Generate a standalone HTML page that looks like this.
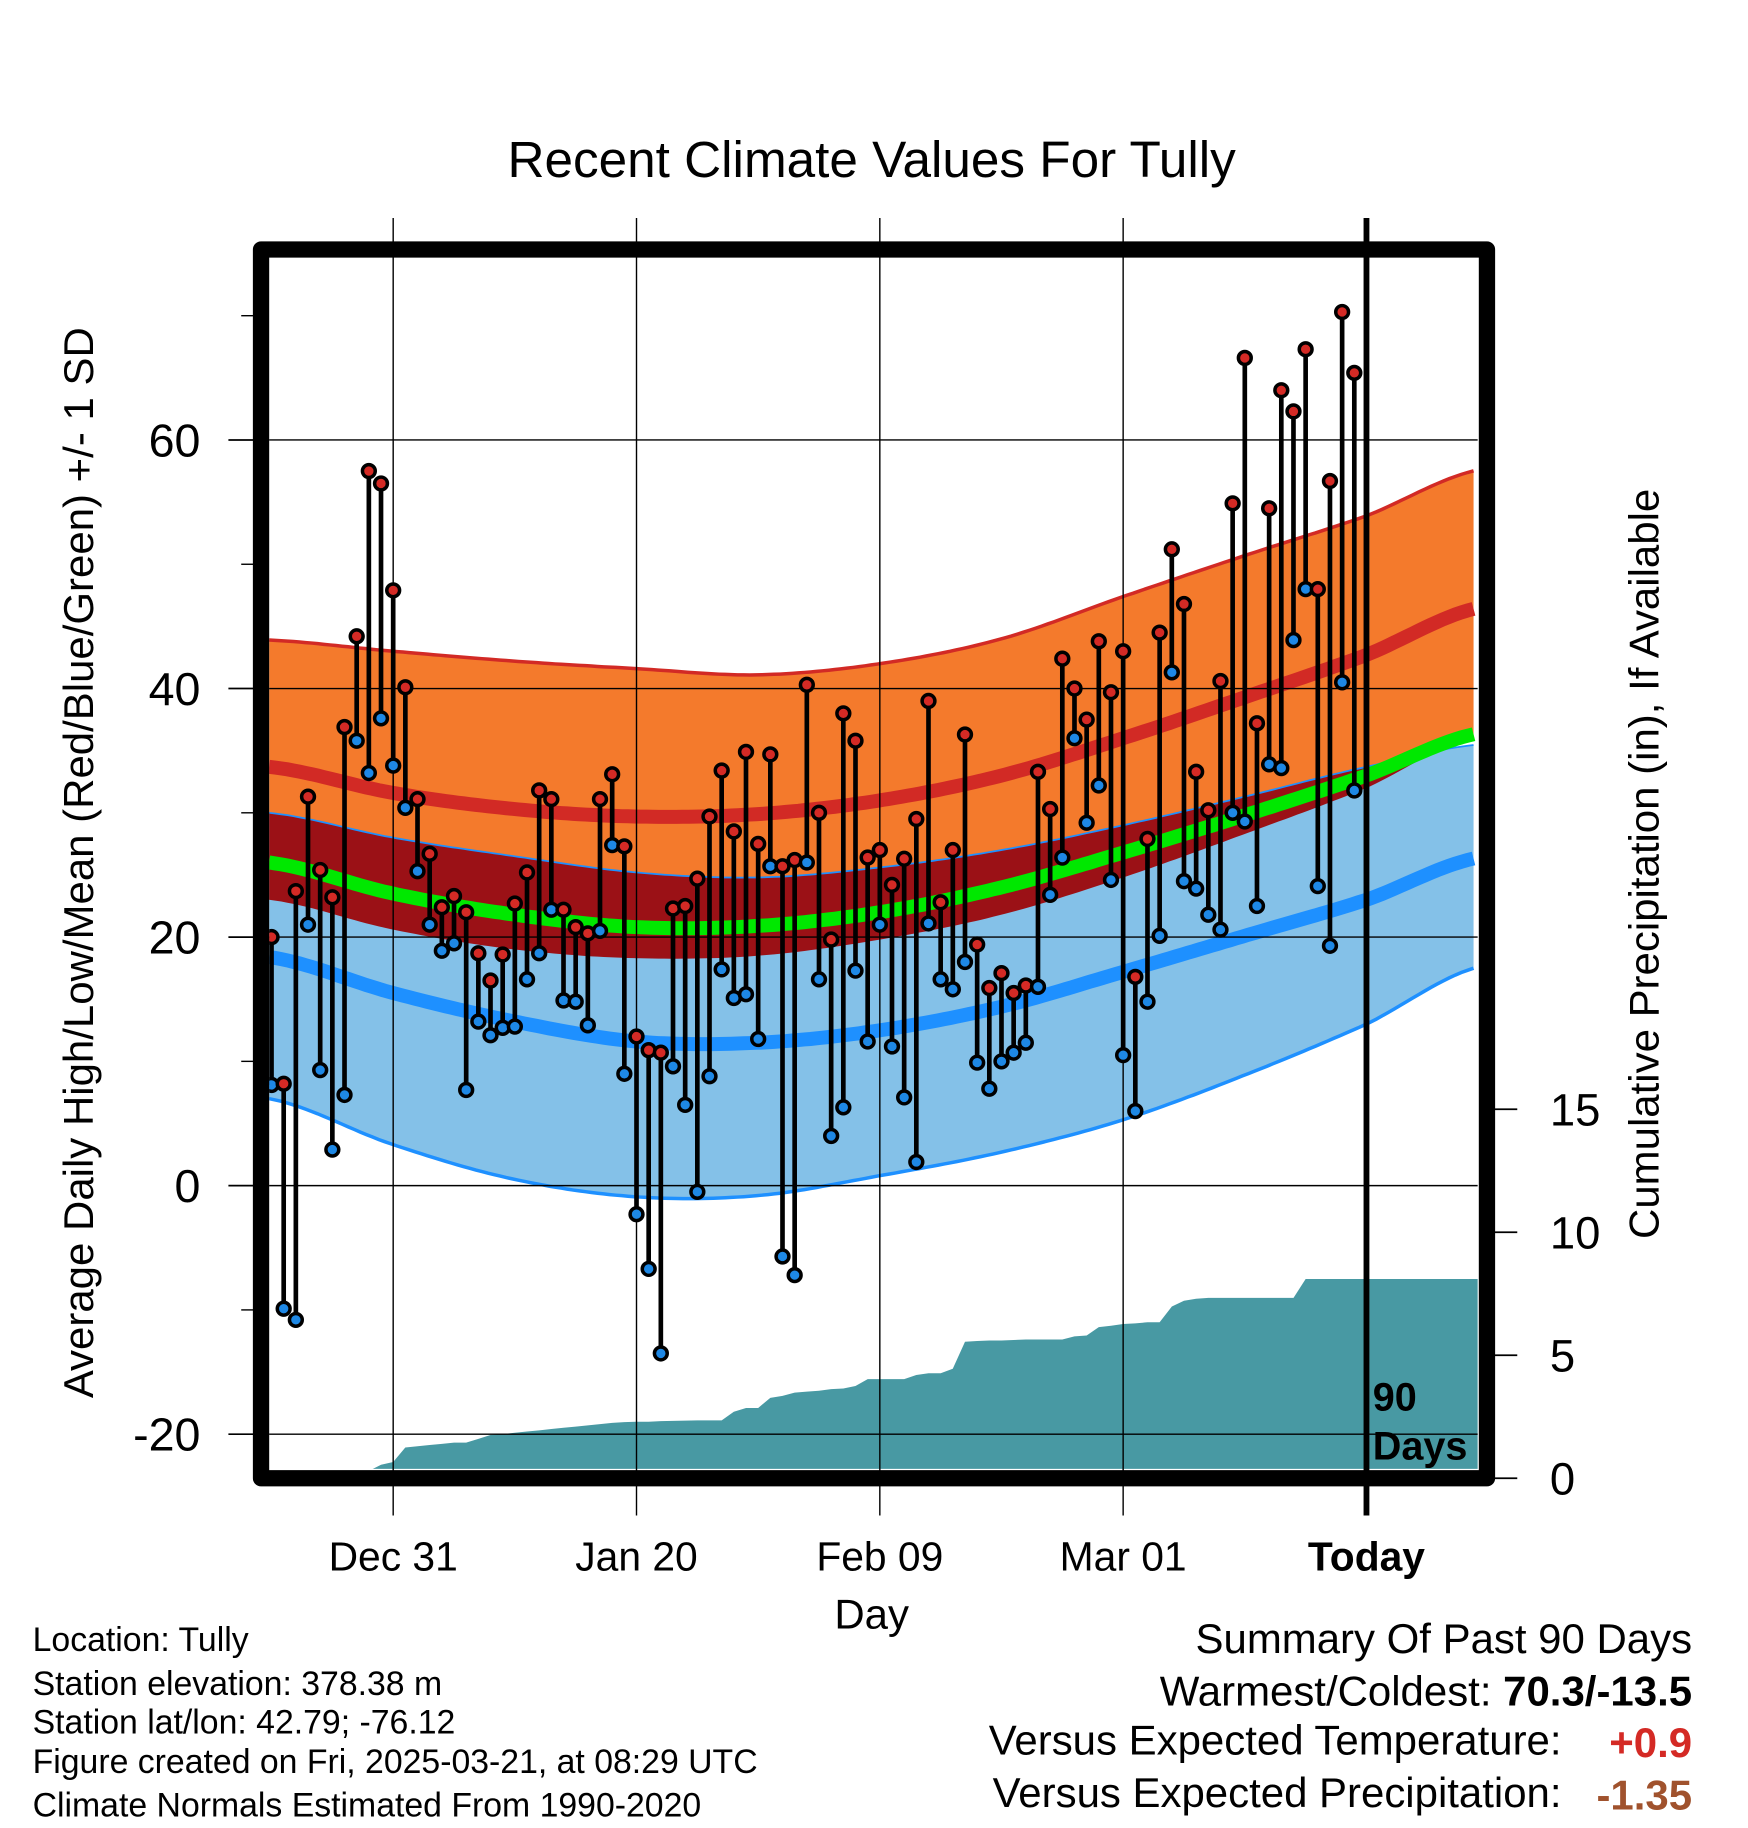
<!DOCTYPE html>
<html><head><meta charset="utf-8"><title>Recent Climate Values For Tully</title>
<style>html,body{margin:0;padding:0;background:#fff}svg{display:block}text{font-family:"Liberation Sans",sans-serif}</style>
</head><body>
<svg id="chart" xmlns="http://www.w3.org/2000/svg" width="1748" height="1828" viewBox="0 0 1500 1568" preserveAspectRatio="none">
<defs><clipPath id="plotclip"><rect x="231" y="221" width="1037" height="1039"/></clipPath></defs>
<rect x="0" y="0" width="1500" height="1568" fill="#fff"/>
<text x="748" y="152" font-size="44" text-anchor="middle">Recent Climate Values For Tully</text>
<g id="bands" clip-path="url(#plotclip)"></g>
<g id="grid"></g>
<g id="marks" clip-path="url(#plotclip)"></g>
<rect x="224" y="214" width="1052" height="1054" fill="none" stroke="#000" stroke-width="14" stroke-linejoin="round"/>
<g id="axes"></g>
<text transform="translate(80,740) rotate(-90)" font-size="36" text-anchor="middle">Average Daily High/Low/Mean (Red/Blue/Green) +/- 1 SD</text>
<text transform="translate(1423,741) rotate(-90)" font-size="36" text-anchor="middle">Cumulative Precipitation (in), If Available</text>
<text x="748" y="1397" font-size="36" text-anchor="middle">Day</text>
<text x="1178" y="1210" font-size="34" font-weight="bold">90</text>
<text x="1178" y="1252" font-size="34" font-weight="bold">Days</text>
<g font-size="29">
<text x="28" y="1416">Location: Tully</text>
<text x="28" y="1454">Station elevation: 378.38 m</text>
<text x="28" y="1487">Station lat/lon: 42.79; -76.12</text>
<text x="28" y="1521">Figure created on Fri, 2025-03-21, at 08:29 UTC</text>
<text x="28" y="1558">Climate Normals Estimated From 1990-2020</text>
</g>
<g font-size="36">
<text x="1452" y="1418" text-anchor="end">Summary Of Past 90 Days</text>
<text x="1452" y="1463" text-anchor="end">Warmest/Coldest: <tspan font-weight="bold">70.3/-13.5</tspan></text>
<text x="1340" y="1505" text-anchor="end">Versus Expected Temperature:</text>
<text x="1452" y="1507" text-anchor="end" font-weight="bold" fill="#d42a25">+0.9</text>
<text x="1340" y="1550" text-anchor="end">Versus Expected Precipitation:</text>
<text x="1452" y="1552" text-anchor="end" font-weight="bold" fill="#a0522d">-1.35</text>
</g>
</svg>
<script>
const highs=[20,8.2,23.7,31.3,25.4,23.2,36.9,44.2,57.5,56.5,47.9,40.1,31.1,26.7,22.4,23.3,22.0,18.7,16.5,18.6,22.7,25.2,31.8,31.1,22.2,20.8,20.3,31.1,33.1,27.3,12.0,10.9,10.7,22.3,22.5,24.7,29.7,33.4,28.5,34.9,27.5,34.7,25.7,26.2,40.3,30.0,19.8,38.0,35.8,26.4,27.0,24.2,26.3,29.5,39.0,22.8,27.0,36.3,19.4,15.9,17.1,15.5,16.1,33.3,30.3,42.4,40.0,37.5,43.8,39.7,43.0,16.8,27.9,44.5,51.2,46.8,33.3,30.2,40.6,54.9,66.6,37.2,54.5,64.0,62.3,67.3,48.0,56.7,70.3,65.4];
const lows=[8.1,-9.9,-10.8,21.0,9.3,2.9,7.3,35.8,33.2,37.6,33.8,30.4,25.3,21.0,18.9,19.5,7.7,13.2,12.1,12.7,12.8,16.6,18.7,22.2,14.9,14.8,12.9,20.5,27.4,9.0,-2.3,-6.7,-13.5,9.6,6.5,-0.5,8.8,17.4,15.1,15.4,11.8,25.7,-5.7,-7.2,26.0,16.6,4.0,6.3,17.3,11.6,21.0,11.2,7.1,1.9,21.1,16.6,15.8,18.0,9.9,7.8,10.0,10.7,11.5,16.0,23.4,26.4,36.0,29.2,32.2,24.6,10.5,6.0,14.8,20.1,41.3,24.5,23.9,21.8,20.6,30.0,29.3,22.5,33.9,33.6,43.9,48.0,24.1,19.3,40.5,31.8];
const precip=[0,0,0,0,0,0,0,0.1,0.3,0.55,0.66,1.25,1.3,1.35,1.4,1.45,1.45,1.6,1.76,1.8,1.85,1.9,1.95,2.0,2.05,2.1,2.15,2.2,2.25,2.28,2.3,2.3,2.32,2.33,2.34,2.35,2.35,2.35,2.7,2.86,2.86,3.27,3.35,3.48,3.52,3.56,3.62,3.65,3.75,4.03,4.03,4.03,4.03,4.2,4.27,4.27,4.45,5.55,5.58,5.6,5.6,5.62,5.64,5.64,5.64,5.64,5.77,5.8,6.14,6.2,6.27,6.3,6.34,6.34,6.98,7.22,7.3,7.33,7.33,7.33,7.33,7.33,7.33,7.33,7.33,8.1,8.1,8.1,8.1,8.1];
const knotDays=[-0.2,10,20,30,40,50,60,70,80,90,99.2];
const normHighPlus=[43.9,43.0,42.2,41.6,41.1,42.0,44.0,47.4,50.7,53.9,57.6];
const normHigh=[33.7,31.6,30.3,29.7,29.9,31.0,33.0,36.0,39.3,42.7,46.5];
const normHighMinus=[23.0,20.6,19.0,18.3,18.5,19.8,21.8,24.8,28.3,32.0,36.3];
const normMean=[26.0,23.5,21.8,20.8,20.9,22.0,24.0,26.8,29.8,33.0,36.4];
const normLowPlus=[30.0,28.0,26.5,25.2,24.8,25.6,27.0,29.0,31.3,33.7,35.5];
const normLow=[18.4,15.5,13.2,11.6,11.5,12.5,14.4,17.2,20.1,23.0,26.4];
const normLowMinus=[7.0,3.3,0.5,-0.9,-0.8,0.8,2.7,5.3,8.9,13.0,17.6];
const yTicks=[-20,0,20,40,60];
const yMinor=[-10,10,30,50,70];
const pTicks=[0,5,10,15];
const xTickDays=[10,30,50,70,90];
const xTickLabels=["Dec 31","Jan 20","Feb 09","Mar 01","Today"];

const NS="http://www.w3.org/2000/svg";
function X(d){return 233+10.44*d;}
function Y(v){return 1017-10.66*v;}
function P(v){return 1268-21.1*v;}
function mk(tag,attrs,parent){const e=document.createElementNS(NS,tag);for(const k in attrs)e.setAttribute(k,attrs[k]);parent.appendChild(e);return e;}
function curve(arr,d){
  let i=0;while(i<knotDays.length-2&&d>knotDays[i+1])i++;
  const t=(d-knotDays[i])/(knotDays[i+1]-knotDays[i]);
  const p0=arr[Math.max(i-1,0)],p1=arr[i],p2=arr[i+1],p3=arr[Math.min(i+2,arr.length-1)];
  const t2=t*t,t3=t2*t;
  return 0.5*((2*p1)+(-p0+p2)*t+(2*p0-5*p1+4*p2-p3)*t2+(-p0+3*p1-3*p2+p3)*t3);
}
const samp=[];for(let d=-0.2;d<=99.21;d+=0.5)samp.push(Math.min(d,99.2));
function line(arr){return samp.map(d=>X(d).toFixed(1)+","+Y(curve(arr,d)).toFixed(1)).join(" ");}
function band(a,b){const top=samp.map(d=>X(d).toFixed(1)+","+Y(curve(a,d)).toFixed(1));const bot=samp.slice().reverse().map(d=>X(d).toFixed(1)+","+Y(curve(b,d)).toFixed(1));return top.concat(bot).join(" ");}

const bands=document.getElementById('bands');
let e;
e=mk('polygon',{points:band(normHighPlus,normHighMinus),fill:'#f47a2c'},bands);


e=mk('polygon',{points:band(normLowPlus,normLowMinus),fill:'#84c1e8'},bands);


const ovTop=samp.map(d=>X(d).toFixed(1)+","+Y(curve(normLowPlus,d)).toFixed(1));
const ovBot=samp.slice().reverse().map(d=>{const a=curve(normLowPlus,d),b=curve(normHighMinus,d);return X(d).toFixed(1)+","+Y(Math.min(a,b)).toFixed(1);});
e=mk('polygon',{points:ovTop.concat(ovBot).join(" "),fill:'#9b1116'},bands);


e=mk('polyline',{points:line(normHighPlus),fill:'none',stroke:'#d22a25','stroke-width':3},bands);


e=mk('polyline',{points:line(normLowPlus),fill:'none',stroke:'#1e90ff','stroke-width':1.5},bands);


e=mk('polyline',{points:line(normLowMinus),fill:'none',stroke:'#1e90ff','stroke-width':3},bands);


e=mk('polyline',{points:line(normHigh),fill:'none',stroke:'#d22a25','stroke-width':12},bands);


e=mk('polyline',{points:line(normMean),fill:'none',stroke:'#00e800','stroke-width':12},bands);


e=mk('polyline',{points:line(normLow),fill:'none',stroke:'#1e90ff','stroke-width':12},bands);


let pp=[X(-0.2)+","+P(0)];
for(let i=0;i<precip.length;i++)pp.push(X(i).toFixed(1)+","+P(precip[i]).toFixed(1));
pp.push("1270,"+P(precip[precip.length-1]).toFixed(1));pp.push("1270,"+P(0));
e=mk('polygon',{points:pp.join(" "),fill:'#4899a3'},bands);



const grid=document.getElementById('grid');
yTicks.forEach(v=>{e=mk('line',{x1:231,x2:1268,y1:Y(v),y2:Y(v),stroke:'#000','stroke-width':1.2},grid);

});
xTickDays.forEach((d,i)=>{const last=i===xTickDays.length-1;e=mk('line',{x1:X(d),x2:X(d),y1:187,y2:1300,stroke:'#000','stroke-width':last?5:1.2},grid);

});

const marks=document.getElementById('marks');
for(let i=0;i<highs.length;i++){
  e=mk('line',{x1:X(i),x2:X(i),y1:Y(highs[i]),y2:Y(lows[i]),stroke:'#000','stroke-width':4},marks);
  
  
}
for(let i=0;i<highs.length;i++){
  e=mk('circle',{cx:X(i),cy:Y(lows[i]),r:5.5,fill:'#1e88e5',stroke:'#000','stroke-width':3},marks);
  
  
  e=mk('circle',{cx:X(i),cy:Y(highs[i]),r:5.5,fill:'#d42a25',stroke:'#000','stroke-width':3},marks);
  
  
}

const axes=document.getElementById('axes');
yTicks.forEach(v=>{
  e=mk('line',{x1:196,x2:220,y1:Y(v),y2:Y(v),stroke:'#000','stroke-width':1.5},axes);
  
  
  e=mk('text',{x:172,y:Y(v)+14,'font-size':40,'text-anchor':'end'},axes);e.textContent=v;
  
  
});
yMinor.forEach(v=>{e=mk('line',{x1:207,x2:220,y1:Y(v),y2:Y(v),stroke:'#000','stroke-width':1.2},axes);

});
pTicks.forEach(v=>{
  e=mk('line',{x1:1280,x2:1302,y1:P(v),y2:P(v),stroke:'#000','stroke-width':1.5},axes);
  
  
  e=mk('text',{x:1330,y:P(v)+14,'font-size':39},axes);e.textContent=v;
  
  
});
xTickDays.forEach((d,i)=>{
  e=mk('text',{x:X(d),y:1347,'font-size':35,'text-anchor':'middle','font-weight':i===xTickDays.length-1?'bold':'normal'},axes);
  e.textContent=xTickLabels[i];
  
  
});
</script>
</body></html>
